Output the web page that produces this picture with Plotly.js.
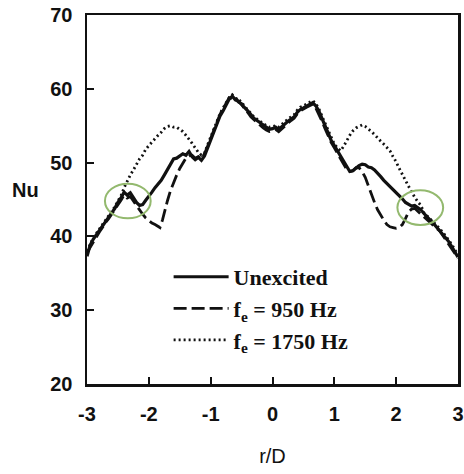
<!DOCTYPE html>
<html>
<head>
<meta charset="utf-8">
<script src="https://cdn.plot.ly/plotly-3.0.1.min.js"></script>
<style>html,body{margin:0;padding:0;background:#fff;}#chart{width:464px;height:474px;}</style>
</head>
<body>
<div id="chart"></div>
<script>
// r/D positions and Nu values
const xUnexcited = [-3.00,-2.95,-2.90,-2.85,-2.80,-2.75,-2.70,-2.65,-2.60,-2.55,-2.50,-2.45,-2.40,-2.35,-2.30,-2.25,-2.20,-2.15,-2.10,-2.05,-2.00,-1.95,-1.90,-1.85,-1.80,-1.75,-1.70,-1.65,-1.60,-1.55,-1.50,-1.45,-1.40,-1.35,-1.30,-1.25,-1.20,-1.15,-1.10,-1.05,-1.00,-0.95,-0.90,-0.85,-0.80,-0.75,-0.70,-0.65,-0.60,-0.55,-0.50,-0.45,-0.40,-0.35,-0.30,-0.25,-0.20,-0.15,-0.10,-0.05,0.00,0.05,0.10,0.15,0.20,0.25,0.30,0.35,0.40,0.45,0.50,0.55,0.60,0.65,0.70,0.75,0.80,0.85,0.90,0.95,1.00,1.05,1.10,1.15,1.20,1.25,1.30,1.35,1.40,1.45,1.50,1.55,1.60,1.65,1.70,1.75,1.80,1.85,1.90,1.95,2.00,2.05,2.10,2.15,2.20,2.25,2.30,2.35,2.40,2.45,2.50,2.55,2.60,2.65,2.70,2.75,2.80,2.85,2.90,2.95,3.00];
const nuUnexcited = [37.3,38.8,39.6,40.2,40.8,41.5,42.0,42.6,43.3,43.8,44.6,45.2,46.0,45.6,45.9,45.3,44.6,44.2,44.3,44.9,45.4,46.0,46.6,47.1,47.6,48.3,49.0,49.8,50.5,50.6,50.9,51.2,51.0,51.5,50.8,50.4,50.7,50.3,50.9,52.0,53.0,54.2,55.2,56.3,57.0,57.7,58.6,59.0,58.5,58.3,57.9,57.4,57.0,56.5,56.0,55.7,55.4,55.0,54.8,54.5,54.6,54.8,54.5,54.9,55.2,55.6,55.9,56.2,56.8,57.2,57.4,57.6,57.9,58.1,57.7,57.0,56.0,55.0,54.0,53.0,52.3,51.6,50.9,50.2,49.5,48.8,48.9,49.3,49.6,49.8,49.7,49.4,49.3,49.0,48.6,48.1,47.6,47.2,46.8,46.4,46.0,45.6,45.1,44.6,44.4,44.1,44.2,43.9,43.6,43.1,42.6,42.2,41.8,41.3,40.9,40.4,39.9,39.3,38.6,37.9,37.2];

const x950 = [-3.00,-2.95,-2.90,-2.85,-2.80,-2.75,-2.70,-2.65,-2.60,-2.55,-2.50,-2.45,-2.40,-2.35,-2.30,-2.25,-2.20,-2.15,-2.10,-2.05,-2.00,-1.95,-1.90,-1.85,-1.82,-1.78,-1.74,-1.70,-1.65,-1.60,-1.55,-1.50,-1.45,-1.40,-1.35,-1.30,-1.25,-1.20,-1.15,-1.10,-1.05,-1.00,-0.95,-0.90,-0.85,-0.80,-0.75,-0.70,-0.65,-0.60,-0.55,-0.50,-0.45,-0.40,-0.35,-0.30,-0.25,-0.20,-0.15,-0.10,-0.05,0.00,0.05,0.10,0.15,0.20,0.25,0.30,0.35,0.40,0.45,0.50,0.55,0.60,0.65,0.70,0.75,0.80,0.85,0.90,0.95,1.00,1.05,1.10,1.15,1.20,1.25,1.30,1.35,1.40,1.45,1.50,1.55,1.60,1.65,1.70,1.75,1.80,1.85,1.90,1.95,2.00,2.05,2.10,2.15,2.20,2.25,2.30,2.35,2.40,2.45,2.50,2.55,2.60,2.65,2.70,2.75,2.80,2.85,2.90,2.95,3.00];
const nu950 = [37.8,38.5,39.3,40.0,40.6,41.2,41.9,42.4,43.0,43.6,44.3,44.9,45.6,45.2,45.4,44.8,44.1,43.5,43.0,42.5,42.1,41.8,41.6,41.3,41.2,42.2,43.6,44.8,46.2,47.3,48.3,49.2,50.0,50.6,50.9,51.0,50.6,50.8,50.5,51.2,52.2,53.3,54.4,55.5,56.5,57.3,58.0,58.8,58.7,58.9,58.2,58.0,57.2,56.8,56.2,55.8,55.4,55.0,54.7,54.4,54.2,54.3,54.5,54.2,54.6,55.0,55.4,55.7,56.0,56.6,57.0,57.3,57.5,57.7,57.9,57.4,56.6,55.6,54.6,53.6,52.7,52.0,51.2,50.5,49.8,49.1,48.8,48.9,49.3,49.3,48.8,48.0,46.8,45.6,44.6,43.6,42.8,42.2,41.6,41.3,41.2,41.1,41.2,41.6,42.4,43.3,43.7,43.8,43.4,43.0,42.6,42.2,41.9,41.5,41.1,40.8,40.2,39.6,39.0,38.4,37.7,37.0];

const x1750 = [-3.00,-2.95,-2.90,-2.85,-2.80,-2.75,-2.70,-2.65,-2.60,-2.55,-2.50,-2.45,-2.40,-2.35,-2.30,-2.25,-2.20,-2.15,-2.10,-2.05,-2.00,-1.95,-1.90,-1.85,-1.80,-1.75,-1.70,-1.65,-1.60,-1.55,-1.50,-1.45,-1.40,-1.35,-1.30,-1.25,-1.20,-1.15,-1.10,-1.05,-1.00,-0.95,-0.90,-0.85,-0.80,-0.75,-0.70,-0.65,-0.60,-0.55,-0.50,-0.45,-0.40,-0.35,-0.30,-0.25,-0.20,-0.15,-0.10,-0.05,0.00,0.05,0.10,0.15,0.20,0.25,0.30,0.35,0.40,0.45,0.50,0.55,0.60,0.65,0.70,0.75,0.80,0.85,0.90,0.95,1.00,1.05,1.10,1.15,1.20,1.25,1.30,1.35,1.40,1.45,1.50,1.55,1.60,1.65,1.70,1.75,1.80,1.85,1.90,1.95,2.00,2.05,2.10,2.15,2.20,2.25,2.30,2.35,2.40,2.45,2.50,2.55,2.60,2.65,2.70,2.75,2.80,2.85,2.90,2.95,3.00];
const nu1750 = [38.0,39.0,39.8,40.4,41.0,41.6,42.2,42.8,43.4,44.0,44.8,45.5,46.6,47.5,48.3,49.0,49.8,50.5,51.0,51.8,52.3,52.8,53.3,53.7,54.1,54.6,54.9,55.0,54.8,54.8,54.5,54.2,53.7,53.2,52.6,52.0,51.4,51.0,51.3,52.4,53.5,54.6,55.6,56.6,57.4,58.2,58.8,59.2,58.7,58.6,58.1,57.6,57.2,56.7,56.2,55.9,55.6,55.2,55.0,54.8,54.9,55.0,54.8,55.2,55.5,55.9,56.2,56.5,57.1,57.5,57.7,57.9,58.2,58.4,58.0,57.3,56.3,55.3,54.3,53.3,52.5,52.0,51.6,52.2,53.0,53.7,54.3,54.7,54.9,55.1,54.9,54.6,54.2,53.8,53.3,52.9,52.5,52.1,51.6,50.8,50.1,49.2,48.3,47.6,46.8,46.0,45.3,44.7,44.2,43.2,42.8,42.3,41.9,41.5,41.1,40.6,40.1,39.5,38.9,38.2,37.5];

const seriesNames = ['Unexcited', 'f<sub>e</sub> = 950 Hz', 'f<sub>e</sub> = 1750 Hz'];
const xTicks = [-3,-2,-1,0,1,2,3];
const yTicks = [20,30,40,50,60,70];
// highlighted regions (centre r/D, centre Nu)
const circleX = [-2.34, 2.39];
const circleY = [44.8, 43.9];

const ink = '#111111';
const traces = [
  {x: xUnexcited, y: nuUnexcited, name: seriesNames[0], legendgroup: 'a', mode: 'lines', line: {color: ink, width: 3.2, dash: 'solid'}},
  {x: x950, y: nu950, name: seriesNames[1], legendgroup: 'b', mode: 'lines', line: {color: ink, width: 2.8, dash: '13px,5px'}},
  {x: x1750, y: nu1750, name: seriesNames[2], legendgroup: 'c', mode: 'lines', line: {color: ink, width: 2.8, dash: '2px,3px'}}
];

const shapes = circleX.map((cx, i) => ({
  type: 'circle', xref: 'x', yref: 'y',
  x0: cx - 0.37, x1: cx + 0.37, y0: circleY[i] - 2.35, y1: circleY[i] + 2.35,
  line: {color: '#93b96e', width: 2}
}));

const layout = {
  width: 464, height: 474,
  margin: {l: 87, r: 6, t: 15, b: 90},
  paper_bgcolor: '#ffffff', plot_bgcolor: '#ffffff',
  font: {family: 'Liberation Sans, Arial, sans-serif', color: ink},
  showlegend: true,
  legend: {
    x: 0.22, y: 0.347, xanchor: 'left', yanchor: 'top',
    bgcolor: 'rgba(0,0,0,0)', borderwidth: 0,
    font: {family: 'Liberation Serif, Times New Roman, serif', size: 22, color: ink, weight: 'bold'},
    traceorder: 'grouped', tracegroupgap: 0, itemwidth: 55
  },
  xaxis: {
    range: [-3, 3], tickvals: xTicks, ticktext: xTicks.map(String),
    ticks: 'inside', ticklen: 7, tickwidth: 2, tickcolor: ink,
    showline: true, linewidth: 2.5, linecolor: ink, mirror: true,
    showgrid: false, zeroline: false,
    tickfont: {size: 20, weight: 'bold', color: ink},
    ticklabelstandoff: 10,
    title: {text: 'r/D', font: {size: 20, color: ink}, standoff: 26}
  },
  yaxis: {
    range: [20, 70], tickvals: yTicks, ticktext: yTicks.map(String),
    ticks: 'inside', ticklen: 7, tickwidth: 2, tickcolor: ink,
    showline: true, linewidth: 2.5, linecolor: ink, mirror: true,
    showgrid: false, zeroline: false,
    tickfont: {size: 20, weight: 'bold', color: ink},
    ticklabelstandoff: 8
  },
  shapes: shapes,
  annotations: [{
    text: 'Nu', xref: 'paper', yref: 'paper', x: -0.165, y: 0.525,
    xanchor: 'center', yanchor: 'middle', showarrow: false,
    font: {size: 20, weight: 'bold', color: ink}
  }]
};

Plotly.newPlot('chart', traces, layout, {displayModeBar: false, staticPlot: true});
</script>
</body>
</html>
